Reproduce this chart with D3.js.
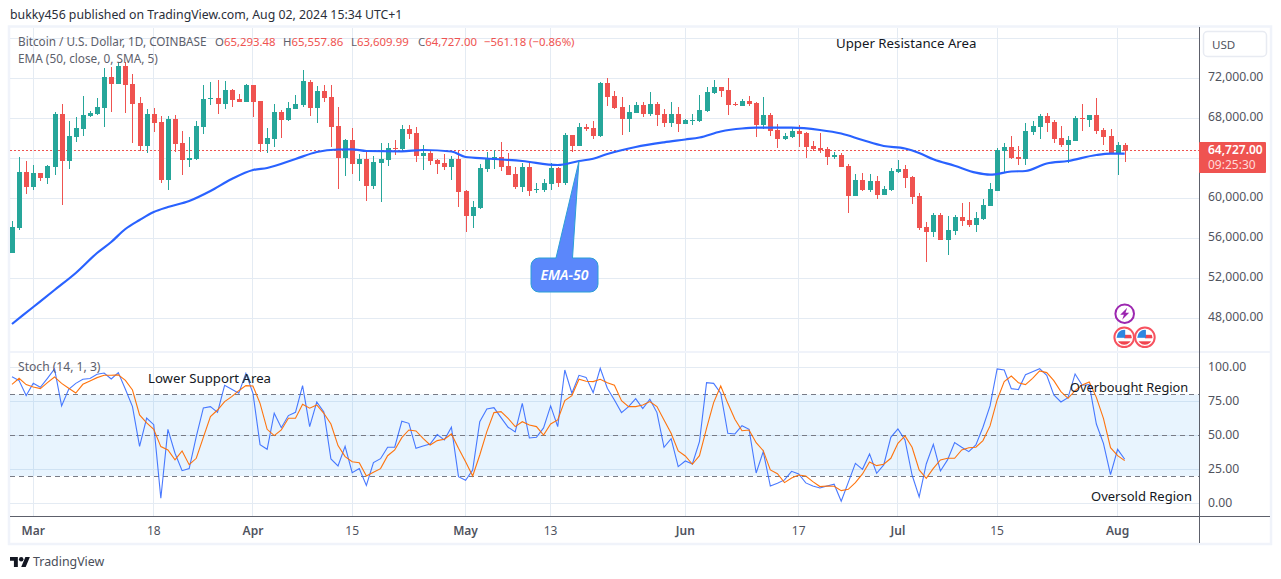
<!DOCTYPE html>
<html><head><meta charset="utf-8">
<script src="https://cdn.jsdelivr.net/npm/d3@7"></script>
<style>
html,body{margin:0;padding:0;background:#fff;overflow:hidden}
svg{display:block}
text{font-family:"Noto Sans","Open Sans",sans-serif}
</style></head><body><svg id="c" width="1281" height="579"></svg>
<script>
const opens=[54533,57067,62633,61133,62533,62033,63133,68433,63733,66133,66933,68233,68433,69033,72133,71433,73233,71433,69533,65233,68433,67633,61833,67933,65533,63833,63933,67133,69967,70033,69433,70833,69933,69633,71333,69733,65433,65933,68633,67833,68933,69333,71633,69033,
70733,70133,67233,64033,65833,63433,63933,61233,63533,63833,65033,64933,66933,66533,64233,64533,63833,63533,63133,63933,60733,58233,59033,62933,63833,64133,63233,62433,61133,63133,60867,60833,61433,63033,61533,66333,65233,67133,67033,66233,71533,70233,69133,67933,68533,
69333,68433,69433,68433,67533,68433,67433,67767,67733,68733,70533,71133,70833,69467,69233,69733,69533,67333,68333,66833,65933,66100,66733,66533,65233,65033,64933,64167,64333,63233,60233,61833,60833,61733,60333,60833,62633,62933,62133,60233,57133,56633,58333,55833,56733,
58133,57833,57333,57933,59233,60733,64733,65133,64133,63933,66633,67133,68233,67633,66033,65333,65733,68033,67833,68333,66833,66233,64533,65293];
const closes=[57167,62633,61133,62533,62033,63233,68433,63733,66233,67033,68333,68533,69133,72133,71433,73233,71333,69433,65233,68433,67533,61833,67933,65433,63833,64000,67233,69933,70033,69433,70833,69833,69633,71333,69633,65433,66033,68633,67833,69033,69433,71733,69033,70733,
70033,67133,64033,65833,63433,63933,61233,63633,63933,65033,64933,66933,66433,64233,64533,63733,63433,63133,63933,60633,58233,59133,63033,63933,64133,63133,62333,61133,63133,60733,60933,61533,63033,61533,66333,65233,67133,66933,66233,71533,70133,69033,67933,68633,69333,
68433,69433,68333,67533,68433,67433,67833,67833,68833,70633,71133,70733,69333,69367,69733,69433,67333,68333,66733,65933,66233,66733,66433,65133,64933,64833,64133,64333,63133,60233,61833,60833,61733,60333,60933,62733,62933,62033,60133,57033,56633,58333,55833,56833,58133,
57733,57333,58033,59333,60933,64833,65133,64033,63933,66733,67233,68233,67533,65933,65333,65833,68033,67933,68333,66733,66133,64533,65333,64727];
const highs=[57733,64133,63733,63333,62533,63333,68633,69433,67733,68133,70233,68733,70033,73033,73133,73667,73667,72433,70133,68933,69033,68233,68233,68333,66733,66133,67733,71333,71633,71833,71733,70933,70433,71433,71333,69733,67033,69433,68833,69633,70333,72833,71833,71233,
71333,71333,69133,65933,67033,64433,64833,64233,65533,65533,65833,67333,67333,67133,65333,64833,63933,64433,64233,64833,60833,59733,63433,64633,64833,65633,64533,63133,63533,63533,61533,61933,63533,63133,66533,66333,67533,67433,67733,71633,72033,70733,70133,69333,69633,
69633,70633,69633,68933,69633,69133,67933,68433,70333,71133,71833,71133,72033,69633,69933,70233,69633,70133,68533,67433,66533,67033,67333,66633,65733,66533,65133,64633,64533,63433,62433,62533,62433,62233,61233,63033,63833,63333,62233,60533,57633,58533,58533,58233,58333,
59533,59633,58633,59933,61533,65033,65533,66233,65233,67533,67733,68433,68533,67833,67233,66233,68233,69433,68333,70033,67033,66933,65633,65558];
const lows=[54533,56867,60467,60867,61733,61433,62333,59333,62933,65633,66233,68133,68333,67133,68633,71433,68533,65533,64733,64533,66633,61533,60833,64633,62333,63133,63833,66433,69333,68433,68933,69133,69633,69633,68133,64633,64533,65133,66033,67733,68933,69133,68233,67533,
69633,65133,60933,62233,62433,61733,59733,60933,59633,63233,64333,64733,65933,63633,62833,63333,62433,62833,61833,59133,56633,57033,58933,62633,62933,62733,62333,60933,60633,60233,60533,60633,60833,61133,61333,64633,65233,66733,65933,66133,69233,68933,66333,66633,68533,
68133,68233,67233,67133,67133,66633,67433,67333,67633,68633,70433,70133,68333,69233,69233,69233,66133,66933,66233,65033,65833,66033,65133,64033,64733,64533,63333,63933,63133,58533,60233,60733,60633,59933,60333,60733,62533,61033,59433,56833,53633,56133,55833,54333,56333,
57233,57133,56633,57833,59233,60733,62533,63933,63333,63333,66333,65933,66633,65533,65133,63533,65733,66733,67133,66433,65333,64533,62333,63610];

const emaBars=[0,3,6,9,12,14,16,18,20,22,25,28,31,34,36,40,43,46,48,50,55,58,62,64,67,72,77,80,82,84,88,92,95,97,100,103,105,110,114,117,120,123,126,128,130,133,136,138,141,143,146,149,153,155,157];
const emaValues=[47430,49130,50830,52530,54530,55630,56930,57830,58630,59130,59730,60730,61930,62830,63030,63930,64630,64880,64900,64730,64700,64830,64680,64130,63980,63730,63330,63730,63960,64430,65130,65600,65880,66080,66680,66980,67060,67060,66830,66480,65830,65230,64980,64530,63900,63260,62560,62360,62680,62730,63480,63730,64330,64460,64460];

const stochK=[93.1,90.2,79.2,88.2,85.3,91.9,98.8,71.6,83.8,88.2,91.2,91.7,94.9,95.8,91.4,96.1,83.8,71.1,41.9,62.7,57.8,3.7,54.4,36.8,24.0,25.5,49.0,70.1,71.1,66.9,86.8,83.8,80.9,95.6,80.9,43.1,39.7,66.2,55.6,64.5,66.9,86.5,56.4,74.5,67.2,32.6,27.5,41.9,22.5,25.5,13.2,29.9,32.8,41.2,41.2,60.3,58.8,40.4,42.2,43.6,
50.5,46.6,55.9,19.6,16.9,24.5,60.0,69.4,70.3,63.0,55.9,52.5,73.5,48.0,48.5,55.4,71.6,56.4,98.0,80.9,94.1,92.6,81.4,99.3,84.6,76.0,66.7,71.1,77.0,69.6,76.5,66.7,41.2,47.5,27.0,31.1,28.9,45.3,88.7,88.2,80.9,51.5,51.0,57.1,54.4,22.3,38.0,12.7,14.7,17.2,23.5,21.6,15.0,12.7,11.3,12.7,14.0,1.5,15.4,29.4,
25.0,36.3,22.1,28.2,48.5,54.7,46.6,20.8,4.7,28.9,43.4,23.8,31.9,44.6,41.2,38.0,42.9,55.9,71.6,98.8,98.0,84.3,83.6,94.6,96.8,99.0,94.1,79.7,74.5,77.7,95.1,86.8,87.3,58.3,44.1,21.1,39.7,32.4];
const stochD=[87.5,91.9,87.3,85.5,84.3,88.7,92.9,88.2,84.6,81.1,87.5,90.0,92.4,94.1,94.1,94.4,90.4,83.3,65.0,59.1,54.4,41.7,39.2,31.9,38.5,28.4,33.1,48.5,63.7,68.6,74.8,78.4,82.8,86.5,86.3,73.5,54.4,49.8,53.9,62.5,62.5,72.8,69.9,72.3,66.2,58.3,42.4,34.3,30.6,29.9,20.1,22.8,25.5,35.0,39.2,48.3,53.9,53.2,47.8,42.9,
46.1,47.1,51.0,40.4,30.6,20.1,35.5,52.7,66.7,67.4,62.5,56.4,60.0,57.6,56.4,50.2,58.3,61.3,75.5,79.2,91.2,89.7,89.5,91.2,88.7,86.8,75.5,71.1,71.1,72.3,74.8,71.1,61.3,51.5,38.5,34.8,28.7,35.0,55.1,74.0,86.3,73.5,61.8,53.4,53.9,44.6,38.7,24.5,21.8,15.2,18.6,20.8,20.1,15.9,12.3,12.7,12.5,9.3,10.3,15.2,21.6,
30.4,27.7,28.7,33.1,44.1,49.5,41.2,24.5,18.4,25.7,31.9,33.1,33.1,39.2,40.9,41.2,46.1,56.9,76.0,89.5,93.6,88.7,87.3,91.9,97.3,96.1,90.2,82.1,77.2,82.8,87.0,89.2,77.9,62.5,40.9,35.0,31.4];

const priceGrid=[76000,72000,68000,64000,60000,56000,52000,48000];
const priceLabels=[72000,68000,60000,56000,52000,48000];
const stochTicks=[100,75,50,25,0];
const stochLevels=[80,50,20];
const timeTicks=["2024-03-01","2024-03-18","2024-04-01","2024-04-15","2024-05-01","2024-05-13","2024-06-01","2024-06-17","2024-07-01","2024-07-15","2024-08-01"];
const timeLabels=["Mar","18","Apr","15","May","13","Jun","17","Jul","15","Aug"];
const monthLabels=["Mar","Apr","May","Jun","Jul","Aug"];
const firstDay="2024-02-27", lastDay="2024-08-02";
const legendOHLC=[["O","65,293.48",215],["H","65,557.86",283],["L","63,609.99",351],["C","64,727.00",418]];

const UP="#26a69a",DN="#ef5350",GRID="#e4ebf3",AX="#50535e",FRAME="#f0f3fa",LINE="#5d606b",TXT="#131722";
const svg=d3.select("#c");
const L=10,R=1199,T=28,PB=351,B=516,OUT=1270,OB=543;
const x=d3.scaleUtc().domain([new Date(firstDay),new Date(lastDay)]).range([12,1124.7]);
const barDate=i=>d3.utcDay.offset(new Date(firstDay),i);
const y=d3.scaleLinear().domain([72000,48000]).range([78.3,318.3]);
const ys=d3.scaleLinear().domain([0,100]).range([503.3,367.3]);
const crisp=v=>Math.round(v-0.5)+0.5;

const defs=svg.append("defs");
defs.append("clipPath").attr("id","pClip").append("rect").attr("x",L).attr("y",T).attr("width",R-L).attr("height",PB-T);
defs.append("clipPath").attr("id","sClip").append("rect").attr("x",L).attr("y",PB).attr("width",R-L).attr("height",B-PB);
defs.append("clipPath").attr("id","fClip").append("circle").attr("r",7.5);

// frame
svg.append("rect").attr("x",L-1).attr("y",T-1.5).attr("width",OUT-L+2).attr("height",OB-T+2.5).attr("fill","none").attr("stroke",FRAME).attr("stroke-width",2.5);

// gridlines
const g=svg.append("g").attr("stroke",GRID).attr("stroke-width",1).attr("shape-rendering","crispEdges");
timeTicks.forEach(d=>{const px=crisp(x(new Date(d)));g.append("line").attr("x1",px).attr("x2",px).attr("y1",T).attr("y2",B);});
priceGrid.forEach(p=>{const py=crisp(y(p));g.append("line").attr("x1",L).attr("x2",R).attr("y1",py).attr("y2",py);});
stochTicks.forEach(v=>{const py=crisp(ys(v));g.append("line").attr("x1",L).attr("x2",R).attr("y1",py).attr("y2",py);});
g.append("line").attr("x1",L).attr("x2",OUT).attr("y1",PB+.5).attr("y2",PB+.5).attr("stroke",FRAME).attr("stroke-width",2);

// stoch band
const sp=svg.append("g").attr("clip-path","url(#sClip)");
sp.append("rect").attr("x",L).attr("width",R-L).attr("y",ys(stochLevels[0])).attr("height",ys(stochLevels[2])-ys(stochLevels[0])).attr("fill","#2196f3").attr("fill-opacity",.1);
stochLevels.forEach(v=>{const py=crisp(ys(v));sp.append("line").attr("x1",L).attr("x2",R).attr("y1",py).attr("y2",py).attr("stroke","#787b86").attr("stroke-dasharray","5,4").attr("shape-rendering","crispEdges");});

// dotted last price
const lastY=crisp(y(closes[closes.length-1])-0.5);
svg.append("line").attr("x1",L).attr("x2",R).attr("y1",lastY).attr("y2",lastY).attr("stroke",DN).attr("stroke-dasharray","2,2").attr("stroke-width",1).attr("shape-rendering","crispEdges");

// candles
const pane=svg.append("g").attr("clip-path","url(#pClip)");
const candles=pane.selectAll("g.c").data(opens.map((o,i)=>({i,o,c:closes[i],h:highs[i],l:lows[i]}))).join("g").attr("class","c");
candles.each(function(d){
  const px=Math.round(x(barDate(d.i)));const col=d.c>=d.o?UP:DN;const s=d3.select(this);
  s.append("rect").attr("x",px-0.5).attr("width",1).attr("y",y(d.h)).attr("height",y(d.l)-y(d.h)).attr("fill",col).attr("shape-rendering","crispEdges");
  const top=y(Math.max(d.o,d.c)),bot=y(Math.min(d.o,d.c));
  s.append("rect").attr("x",px-2.5).attr("width",5).attr("y",top).attr("height",Math.max(1,bot-top)).attr("fill",col).attr("shape-rendering","crispEdges");
});

// EMA
pane.append("path").attr("fill","none").attr("stroke","#2962ff").attr("stroke-width",2.2)
 .attr("d",d3.line().curve(d3.curveMonotoneX).x((v,i)=>x(barDate(emaBars[i]))).y(v=>y(v))(emaValues));

// Stoch lines
const sl=d3.line().x((v,i)=>x(barDate(i))).y(v=>ys(v));
sp.append("path").attr("fill","none").attr("stroke","#2962ff").attr("stroke-opacity",.85).attr("stroke-width",1.1).attr("d",sl(stochK));
sp.append("path").attr("fill","none").attr("stroke","#ff6d00").attr("stroke-opacity",.95).attr("stroke-width",1.1).attr("d",sl(stochD));

// axes lines
const ax=svg.append("g").attr("stroke",LINE).attr("stroke-width",1).attr("shape-rendering","crispEdges");
ax.append("line").attr("x1",R+.5).attr("x2",R+.5).attr("y1",T-1).attr("y2",OB);
ax.append("line").attr("x1",L).attr("x2",OUT).attr("y1",B+.5).attr("y2",B+.5);

// right labels
const fmt=d3.format(",.2f");
const axisFont=12.2;
priceLabels.forEach(p=>svg.append("text").attr("x",1208).attr("y",y(p)+3).attr("font-size",axisFont).attr("fill",AX).text(fmt(p)));
stochTicks.forEach(v=>svg.append("text").attr("x",1208).attr("y",ys(v)+3.5).attr("font-size",axisFont).attr("fill",AX).text(fmt(v)));

// USD button
svg.append("rect").attr("x",1203.5).attr("y",31.5).attr("width",63).attr("height",25).attr("rx",4).attr("fill","#fff").attr("stroke","#e8ebf2").attr("stroke-width",1.5);
svg.append("text").attr("x",1212).attr("y",49).attr("font-size",11.6).attr("fill",AX).text("USD");

// price tag
svg.append("rect").attr("x",R).attr("y",142).attr("width",67).attr("height",31).attr("fill",DN).attr("rx",1);
svg.append("text").attr("x",1208).attr("y",154).attr("font-size",12).attr("font-weight",600).attr("fill","#fff").text(fmt(closes[closes.length-1]));
svg.append("text").attr("x",1208).attr("y",168.5).attr("font-size",12).attr("fill","#ffdad9").text("09:25:30");

// time labels
timeTicks.forEach((d,i)=>svg.append("text").attr("x",x(new Date(d))).attr("y",534.5).attr("text-anchor","middle").attr("font-size",12).attr("fill",AX).attr("font-weight",monthLabels.includes(timeLabels[i])?600:400).text(timeLabels[i]));

// header and legends
svg.append("text").attr("x",10).attr("y",19).attr("font-size",12.3).attr("fill","#2a2e39").text("bukky456 published on TradingView.com, Aug 02, 2024 15:34 UTC+1");
svg.append("text").attr("x",18).attr("y",46).attr("font-size",11.75).attr("fill",LINE).text("Bitcoin / U.S. Dollar, 1D, COINBASE");
legendOHLC.forEach(([k,v,px])=>{
  const t=svg.append("text").attr("x",px).attr("y",46).attr("font-size",11.4).attr("fill",LINE).text(k);
  t.append("tspan").attr("fill",DN).text(v);
});
svg.append("text").attr("x",484).attr("y",46).attr("font-size",11.4).attr("fill",DN).text("−561.18 (−0.86%)");
svg.append("text").attr("x",18).attr("y",63).attr("font-size",11.8).attr("fill",LINE).text("EMA (50, close, 0, SMA, 5)");
svg.append("text").attr("x",18).attr("y",371).attr("font-size",12.1).attr("fill",LINE).text("Stoch (14, 1, 3)");

// annotation texts
[["Upper Resistance Area",836,48,13.25],["Lower Support Area",148,383,13.2],["Overbought Region",1070,392,12.8],["Oversold Region",1091,501,13]]
 .forEach(([s,px,py,fs])=>svg.append("text").attr("x",px).attr("y",py).attr("font-size",fs).attr("fill",TXT).text(s));

// callout
const tipX=x(barDate(80)),tipY=y(emaValues[emaBars.indexOf(80)]);
const boxX=531,boxY=258,boxW=67,boxH=34,r=8,b1=556,b2=572.5;
const cp=d3.path();
cp.moveTo(boxX+r,boxY);cp.lineTo(b1,boxY);cp.lineTo(tipX,tipY);cp.lineTo(b2,boxY);cp.lineTo(boxX+boxW-r,boxY);
cp.arcTo(boxX+boxW,boxY,boxX+boxW,boxY+r,r);cp.lineTo(boxX+boxW,boxY+boxH-r);cp.arcTo(boxX+boxW,boxY+boxH,boxX+boxW-r,boxY+boxH,r);
cp.lineTo(boxX+r,boxY+boxH);cp.arcTo(boxX,boxY+boxH,boxX,boxY+boxH-r,r);cp.lineTo(boxX,boxY+r);cp.arcTo(boxX,boxY,boxX+r,boxY,r);cp.closePath();
svg.append("path").attr("d",cp.toString()).attr("fill","#5b87fb").attr("stroke","#2b9fd6").attr("stroke-width",1);
svg.append("text").attr("x",boxX+boxW/2).attr("y",boxY+22).attr("text-anchor","middle").attr("font-size",14).attr("font-style","italic").attr("font-weight",600).attr("fill","#fff").text("EMA-50");

// event icons
const ev=svg.append("g");
const ex=x(barDate(157));
ev.append("circle").attr("cx",ex).attr("cy",313.7).attr("r",9.3).attr("fill","#fff").attr("stroke","#9c27b0").attr("stroke-width",2);
ev.append("path").attr("transform",`translate(${ex},313.7)`).attr("d","M2.5,-6 L-4.5,1 L-0.8,1 L-2.5,6 L4.5,-1 L0.8,-1 Z").attr("fill","#9c27b0");
[ex-0.5,ex+20.2].forEach(cx=>{
  const f=ev.append("g").attr("transform",`translate(${cx},337.3)`);
  f.append("circle").attr("r",9.8).attr("fill","#fff").attr("stroke","#f7525f").attr("stroke-width",2);
  const i=f.append("g").attr("clip-path","url(#fClip)");
  i.append("rect").attr("x",-8).attr("y",-8).attr("width",16).attr("height",16).attr("fill","#fff");
  i.append("rect").attr("x",0).attr("y",-2.5).attr("width",8).attr("height",3.5).attr("fill","#f0444f");
  i.append("rect").attr("x",-8).attr("y",4).attr("width",16).attr("height",4).attr("fill","#f0444f");
  i.append("rect").attr("x",-8).attr("y",-8).attr("width",9).attr("height",8.5).attr("fill","#2f86e0");
});

// logo
svg.append("g").attr("transform","translate(10,554.7) scale(.56)").attr("fill","#131722").html('<path d="M14 22H7V11H0V4h14v18zM28 22h-8l7.5-18h8L28 22z"/><circle cx="20" cy="8" r="4"/>');
svg.append("text").attr("x",33).attr("y",566).attr("font-size",12.4).attr("fill","#4a4e59").text("TradingView");
</script></body></html>
